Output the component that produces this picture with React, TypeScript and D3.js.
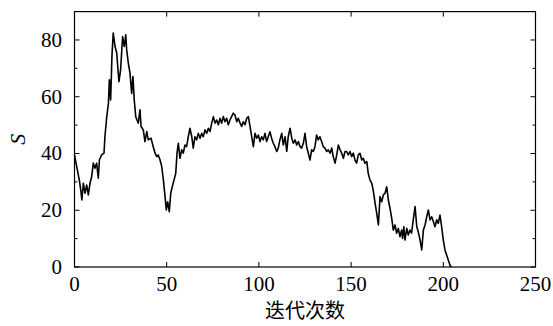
import React from "react";
import * as d3 from "d3";

const iterations: number[] = [
  0, 1.2, 2.6, 3.4, 4, 4.8, 5.7, 6.6, 7.5, 8.4, 9.3, 10.2, 11.1, 12, 12.9, 13.5, 14.7, 16, 16.5, 17.5,
  18.4, 18.9, 19.6, 20.3, 21, 22, 22.9, 24.1, 25, 26.1, 27, 27.8,
  28.3, 29.2, 30.1, 31, 31.7, 32.4, 33.2, 33.9, 34.6, 35.5, 36.1, 37.3, 38.2, 39.2, 40, 41.5, 42.7, 43.7,
  44.6, 45.4, 46.4, 47.3, 48.2, 49.1, 49.8, 50.5, 51.4, 52.2, 53, 54, 54.9, 55.6, 56.3,
  57.2, 58.1, 59, 59.9, 60.8, 61.7, 62.6, 63.6, 64.4, 65.3, 66.3, 67.1, 68.1, 69, 69.8, 70.8, 71.7, 72.6,
  73.5, 74.4, 75.3, 76.2, 77.1, 78, 78.9, 79.8, 80.7, 81.6, 82.5, 83.4, 84.3, 85.2, 86.1,
  87, 88, 88.8, 89.8, 90.7, 91.5, 92.5, 93.4, 94.3, 95.2, 96.1, 97, 97.9, 98.8, 99.7, 100.6, 101.5, 102.4,
  103.3, 104.2, 105.1, 106, 106.9, 107.8, 108.7, 109.7, 110.5, 111.4, 112.4, 113.2, 114.2, 115.1, 115.9, 116.9,
  117.8, 118.7, 119.6, 120.5, 121.4, 122.3, 123.2, 124.1, 125, 125.9, 126.8, 127.7, 128.6, 129.5, 130.4,
  131.3, 132.2, 133.1, 134, 134.9, 135.8, 136.8, 137.6, 138.6, 139.5, 140.3, 141.3, 142.2, 143.1, 144,
  144.9, 145.8, 146.7,
  147.6, 148.5, 149.4, 150.3, 151.2, 152.1, 153, 153.9, 154.8, 155.8, 156.6, 157.5, 158.5, 159.3, 160.2,
  161.2, 162, 163, 163.9, 164.8, 165.7, 166.6, 167.5, 168.4, 169.3, 170.2, 171.1, 172, 172.9, 173.8, 174.7,
  175.6, 176.5,
  177.4, 177.9, 178.6, 179.2, 180.2, 181, 181.9, 182.8, 183.7, 184.7, 185.6, 186.4, 187.4, 188.3, 189.2,
  190.1, 191, 191.9, 192.8, 193.7, 194.6, 195.5, 196.4, 197.3, 198.2, 199.1, 200, 200.9, 201.8, 202.7,
  203.6, 204.2,
];

const sValues: number[] = [
  39.5, 35.4, 30.7, 27.1, 23.6, 29.5, 26, 28.9, 25.4, 29.5, 31.8, 36.6, 34.8, 36.6, 31.3, 37.7, 39.5, 40.1, 46, 53,
  57.7, 66, 58.9, 74.2, 82.4, 77.7, 75.4, 65.3, 69.5, 81.2, 77.7, 81.8,
  76.5, 71.8, 68.3, 61.2, 67.1, 58.9, 53, 51.8, 50.7, 55.4, 49.5, 48.3, 44.2, 47.7, 44.8, 45.4, 42.4, 40.1,
  38.9, 39.5, 37.7, 35.4, 30.7, 24.8, 20.1, 23, 19.5, 26, 28.3, 30.7, 33, 40.1, 43.6,
  38.3, 41.3, 40.1, 43, 42.4, 45.9, 48.9, 45.9, 41.9, 45.9, 44.8, 47.1, 45.4, 47.1, 45.9, 48.3, 47.1, 48.9,
  47.7, 50.7, 53, 50.7, 51.8, 50.1, 52.4, 50.7, 53, 51.2, 52.4, 50.1, 51.8, 53, 54.2,
  53.6, 51.2, 52.4, 50.7, 49.5, 51.2, 50.1, 52.4, 53, 49.5, 45.9, 42.4, 47.1, 45.4, 46.5, 44.2, 45.9, 44.8,
  47.1, 44.2, 45.9, 47.7, 45.4, 43.6, 42.4, 40.7, 41.9, 44.8, 47.1, 43, 45.9, 40.7, 45.9, 48.9,
  45.4, 43.6, 44.8, 43, 44.2, 42.4, 41.9, 43.6, 47.1, 42.4, 40.1, 37.7, 41.3, 40.7, 42.4,
  46.5, 44.8, 45.9, 44.2, 42.4, 41.9, 40.7, 41.3, 40.1, 41.9, 38.9, 36.6, 39.5, 43, 41.3,
  40.1, 38.3, 40.7,
  40.7, 39.5, 40.7, 38.9, 40.1, 37.7, 36.6, 39.5, 40.1, 37.7, 38.3, 36.6, 37.1, 33, 30.7,
  29.5, 27.1, 22.5, 18.9, 14.8, 24.8, 23, 25.4, 26, 28.3, 23.6, 20.7, 17.2, 13, 14.8, 11.9,
  13.6, 10.7,
  13, 10.1, 14.2, 9.5, 13.6, 11.3, 13, 11.9, 16.6, 21.3, 14.2, 12.4, 9.5, 6, 13,
  14.8, 17.7, 20.1, 16.6, 17.7, 16, 14.2, 16.6, 15.4, 18.3, 14.2, 9.5, 6, 4.2, 2.5,
  0.7, 0,
];

const xTicks = [0, 50, 100, 150, 200, 250];
const yTicks = [0, 20, 40, 60, 80];
const yMinorTicks = [10, 30, 50, 70];
const xLabel = "迭代次数";
const yLabel = "S";

const serif = "Liberation Serif";

export default function App() {
  const left = 74.5;
  const right = 535.5;
  const top = 11.6;
  const bottom = 267;
  const x = d3.scaleLinear().domain([0, 250]).range([left, right]);
  const y = d3.scaleLinear().domain([0, 90]).range([bottom, top]);
  const data = iterations.map((v, i) => [v, sValues[i]] as [number, number]);
  const line = d3
    .line<[number, number]>()
    .x((d) => x(d[0]))
    .y((d) => y(d[1]));
  return (
    <svg width={553} height={326} style={{ position: "absolute", left: 0, top: 0, background: "#fff" }}>
      <rect x={0} y={0} width={553} height={326} fill="#fff" />
      <path d={line(data) || ""} fill="none" stroke="#000" strokeWidth={1.6} strokeLinejoin="round" />
      <rect x={left} y={top} width={right - left} height={bottom - top} fill="none" stroke="#000" strokeWidth={1.2} />
      {xTicks.map((t) => (
        <g key={"x" + t}>
          <line x1={x(t)} x2={x(t)} y1={bottom} y2={bottom - 5} stroke="#000" strokeWidth={1} />
          <line x1={x(t)} x2={x(t)} y1={top} y2={top + 5} stroke="#000" strokeWidth={1} />
          <text x={x(t)} y={291} textAnchor="middle" fill="#000" style={{ fontFamily: serif, fontSize: 21 }}>
            {t}
          </text>
        </g>
      ))}
      {yTicks.map((t) => (
        <g key={"y" + t}>
          <line x1={left} x2={left + 5} y1={y(t)} y2={y(t)} stroke="#000" strokeWidth={1} />
          <line x1={right} x2={right - 5} y1={y(t)} y2={y(t)} stroke="#000" strokeWidth={1} />
          <text x={62} y={y(t) + 7} textAnchor="end" fill="#000" style={{ fontFamily: serif, fontSize: 21 }}>
            {t}
          </text>
        </g>
      ))}
      {yMinorTicks.map((t) => (
        <g key={"ym" + t}>
          <line x1={left} x2={left + 3} y1={y(t)} y2={y(t)} stroke="#000" strokeWidth={1} />
          <line x1={right} x2={right - 3} y1={y(t)} y2={y(t)} stroke="#000" strokeWidth={1} />
        </g>
      ))}
      <text x={305} y={318} textAnchor="middle" fill="#000" style={{ fontFamily: "Noto Sans CJK SC", fontSize: 20 }}>
        {xLabel}
      </text>
      <text
        transform={`translate(25, ${(top + bottom) / 2}) rotate(-90)`}
        textAnchor="middle"
        fill="#000"
        style={{ fontFamily: serif, fontSize: 22, fontStyle: "italic" }}
      >
        {yLabel}
      </text>
    </svg>
  );
}
